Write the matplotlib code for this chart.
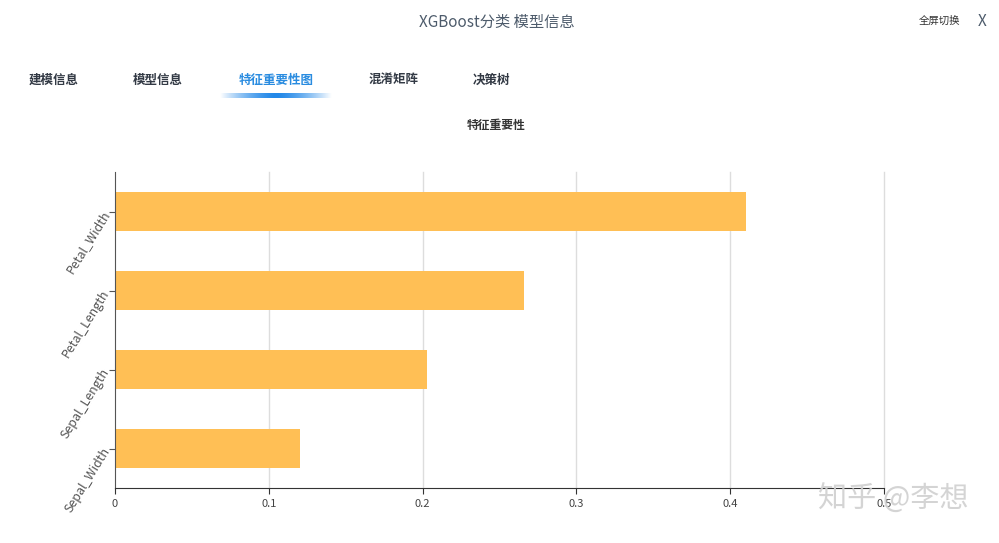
import numpy as np
import matplotlib
matplotlib.use("Agg")
import matplotlib.pyplot as plt
from matplotlib.colors import LinearSegmentedColormap

plt.rcParams['font.family'] = ['Noto Sans CJK SC', 'DejaVu Sans']

# data
features = ["Sepal_Width", "Sepal_Length", "Petal_Length", "Petal_Width"]
importance = [0.120, 0.203, 0.266, 0.410]
x_ticks = [0, 0.1, 0.2, 0.3, 0.4, 0.5]
tabs = ["建模信息", "模型信息", "特征重要性图", "混淆矩阵", "决策树"]
tab_x = [54, 158, 276, 394, 491]

fig = plt.figure(figsize=(9.99, 5.43), dpi=100)
W, H = 999, 543

def px(x, y):
    return x / W, 1 - y / H

# header
fig.text(*px(497, 22), "XGBoost分类 模型信息", ha="center", va="center",
         fontsize=11, color="#4d5b6b")
fig.text(*px(940, 21), "全屏切换", ha="center", va="center", fontsize=7.5, color="#333")
fig.text(*px(982, 21), "X", ha="center", va="center", fontsize=11, color="#4d5b6b")

for t, x in zip(tabs, tab_x):
    c = "#2a8ce0" if t == "特征重要性图" else "#333a45"
    fig.text(*px(x, 80), t, ha="center", va="center", fontsize=9,
             fontweight="bold", color=c)

# gradient underline for active tab
ul = fig.add_axes([220 / W, 1 - 98 / H, 112 / W, 5 / H])
grad = np.linspace(-1, 1, 200)
alpha_row = 1 - np.abs(grad) ** 1.5
cmap = LinearSegmentedColormap.from_list("u", ["#ffffff", "#2288e8"])
ul.imshow(alpha_row[None, :], aspect="auto", cmap=cmap, vmin=0, vmax=1)
ul.axis("off")

fig.text(*px(496, 125), "特征重要性", ha="center", va="center", fontsize=8.5,
         fontweight="bold", color="#333")

# main chart
ax = fig.add_axes([115 / W, 1 - 488 / H, (884 - 115) / W, (488 - 172) / H])
y = np.arange(len(features))
ax.barh(y, importance, height=0.5, color="#ffbf55", zorder=2)
ax.set_xlim(0, 0.5)
ax.set_ylim(-0.5, len(features) - 0.5)
ax.set_xticks(x_ticks)
ax.set_xticklabels([str(v) if v != 0 else "0" for v in x_ticks], fontsize=8, color="#444")
ax.set_yticks(y)
ax.set_yticklabels(features, rotation=58, ha="right", va="center",
                   rotation_mode="anchor", fontsize=9, color="#555")
for v in x_ticks[1:]:
    ax.axvline(v, color="#dddddd", linewidth=1, zorder=0, clip_on=False)
for s in ["top", "right"]:
    ax.spines[s].set_visible(False)
ax.spines["left"].set_color("#555")
ax.spines["bottom"].set_color("#333")
ax.tick_params(axis="y", length=4, color="#555", pad=2)
ax.tick_params(axis="x", length=4, color="#333", pad=4)

# watermark
fig.text(*px(893, 500), "知乎 @李想", ha="center", va="center", fontsize=21,
         color="#d0d0d0", alpha=0.9)

fig.savefig("out.png", dpi=100, facecolor="white")
